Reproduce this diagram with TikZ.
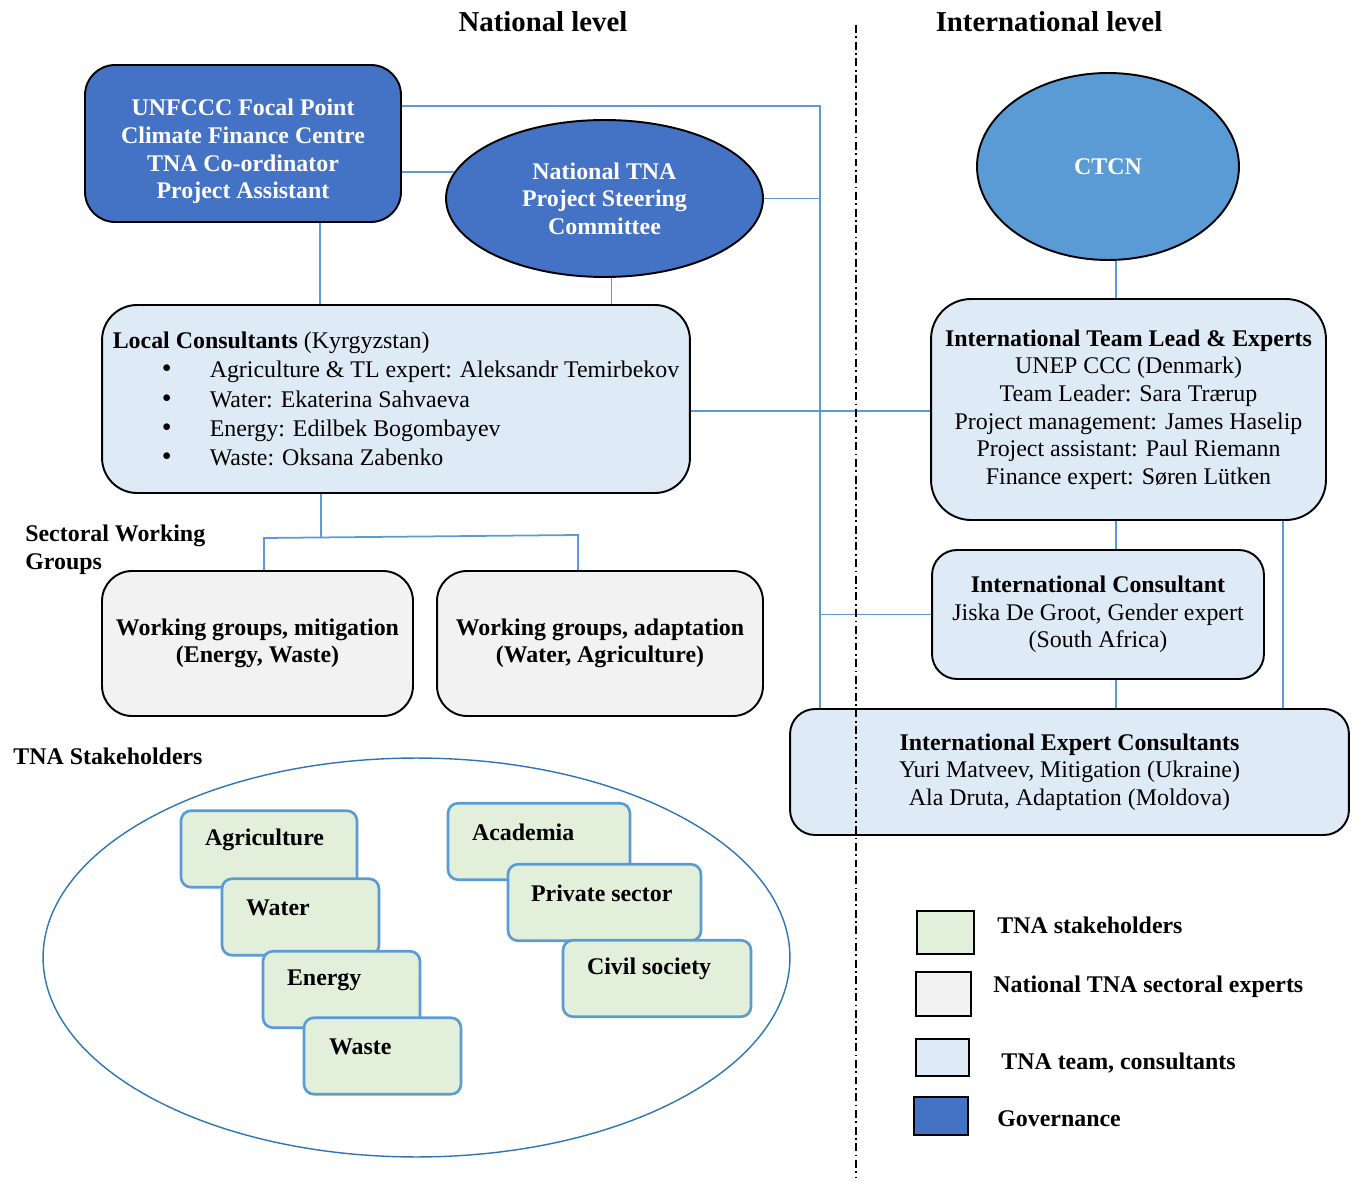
\documentclass[tikz,border=0pt]{standalone}
\usepackage{fontspec}
\usepackage{tikz}
\usetikzlibrary{shapes.geometric}
\setmainfont{Liberation Serif}

\definecolor{govblue}{HTML}{4472C4}
\definecolor{ctcnblue}{HTML}{5B9BD5}
\definecolor{linkblue}{HTML}{5B9BD5}
\definecolor{teamfill}{HTML}{DEEBF7}
\definecolor{expertfill}{HTML}{F2F2F2}
\definecolor{stakefill}{HTML}{E2EFDA}
\definecolor{ringblue}{HTML}{2E75B6}

\newcommand{\lcbullet}{\hspace*{0.98cm}\makebox[0.96cm][l]{\fontsize{16}{0}\selectfont\textbullet}}

\begin{document}
\fontsize{13.6}{15.7}\selectfont
\begin{tikzpicture}[
        x=0.02cm, y=-0.02cm,
        gov/.style={draw=black, line width=1.1pt, fill=govblue, rounded corners=0.6cm, inner sep=0pt},
        govtext/.style={text=white, font=\bfseries, align=center},
        govell/.style={ellipse, draw=black, line width=1.1pt, fill=govblue, text=white, font=\bfseries, align=center, inner sep=0pt},
        team/.style={draw=black, line width=1.1pt, fill=teamfill, align=center, rounded corners=0.6cm, inner sep=0pt},
        expert/.style={draw=black, line width=1.1pt, fill=expertfill, font=\bfseries, align=center, rounded corners=0.6cm, inner sep=0pt},
        stake/.style={draw=linkblue, line width=1.5pt, fill=stakefill, rounded corners=0.2cm, minimum height=1.53cm, inner sep=0pt},
        staketext/.style={font=\bfseries, anchor=west, inner sep=0pt},
        legbox/.style={draw=black, line width=1.1pt, inner sep=0pt},
        legtext/.style={font=\bfseries, anchor=west, inner sep=0pt},
        conn/.style={draw=linkblue, line width=1pt},
        heading/.style={font=\fontsize{16.4}{19}\selectfont\bfseries}
    ]
        \useasboundingbox (0,0) rectangle (1357,1182);

        \node[heading] (natl) at (543,22) {National level};
        \node[heading] (intl) at (1049,22) {International level};

        \node[gov, minimum width=6.32cm, minimum height=3.14cm] (focal) at (243,143.5) {};
        \node[govtext] (focaltext) at ([yshift=-0.16cm]focal.center)
            {UNFCCC Focal Point\\Climate Finance Centre\\TNA Co-ordinator\\Project Assistant};
        \node[govell, minimum width=6.34cm, minimum height=3.14cm] (psc) at (604.5,198.5)
            {National TNA\\Project Steering\\Committee};
        \node[ellipse, draw=black, line width=1.1pt, fill=ctcnblue, text=white, font=\bfseries, minimum width=5.24cm, minimum height=3.74cm] (ctcn) at (1108,166.5) {CTCN};

        \node[team, rounded corners=0.7cm, minimum width=11.76cm, minimum height=3.76cm, align=left, font=\fontsize{13.6}{16.6}\selectfont] (local) at (396,399)
            {\textbf{Local Consultants} (Kyrgyzstan)\\
             \lcbullet Agriculture \& TL expert: Aleksandr Temirbekov\\
             \lcbullet Water: Ekaterina Sahvaeva\\
             \lcbullet Energy: Edilbek Bogombayev\\
             \lcbullet Waste: Oksana Zabenko};
        \node[team, rounded corners=0.8cm, minimum width=7.9cm, minimum height=4.42cm] (lead) at (1128.5,409.5)
            {\textbf{International Team Lead \& Experts}\\UNEP CCC (Denmark)\\Team Leader: Sara Trærup\\Project management: James Haselip\\Project assistant: Paul Riemann\\Finance expert: Søren Lütken};
        \node[team, rounded corners=0.5cm, minimum width=6.64cm, minimum height=2.58cm] (gender) at (1098,614.5)
            {\textbf{International Consultant}\\Jiska De Groot, Gender expert\\(South Africa)};
        \node[team, rounded corners=0.5cm, minimum width=11.18cm, minimum height=2.52cm] (experts) at (1069.5,772)
            {\textbf{International Expert Consultants}\\Yuri Matveev, Mitigation (Ukraine)\\Ala Druta, Adaptation (Moldova)};

        \node[font=\bfseries, align=left, anchor=west, inner sep=0pt] (swg) at (25,550) {Sectoral Working\\Groups};
        \node[expert, minimum width=6.22cm, minimum height=2.9cm] (mitig) at (257.5,643.5)
            {Working groups, mitigation\\(Energy, Waste)};
        \node[expert, minimum width=6.52cm, minimum height=2.9cm] (adapt) at (600,643.5)
            {Working groups, adaptation\\(Water, Agriculture)};

        \node[font=\bfseries, anchor=west, inner sep=0pt] (stk) at (13,756) {TNA Stakeholders};
        \node[ellipse, draw=ringblue, line width=0.8pt, minimum width=14.94cm, minimum height=7.98cm] (ring) at (416.5,957.5) {};

        \node[stake, minimum width=3.52cm] (agri) at (269,849) {};
        \node[staketext] (agritext) at ([shift={(25,30)}]agri.north west) {Agriculture};
        \node[stake, minimum width=3.14cm] (water) at (300.5,917) {};
        \node[staketext] (watertext) at ([shift={(25,30)}]water.north west) {Water};
        \node[stake, minimum width=3.14cm] (energy) at (341.5,989.5) {};
        \node[staketext] (energytext) at ([shift={(25,30)}]energy.north west) {Energy};
        \node[stake, minimum width=3.14cm] (waste) at (382.5,1056) {};
        \node[staketext] (wastetext) at ([shift={(26,30)}]waste.north west) {Waste};
        \node[stake, minimum width=3.64cm] (acad) at (539,841.5) {};
        \node[staketext] (acadtext) at ([shift={(25,30)}]acad.north west) {Academia};
        \node[stake, minimum width=3.86cm] (priv) at (604.5,902.5) {};
        \node[staketext] (privtext) at ([shift={(24,30)}]priv.north west) {Private sector};
        \node[stake, minimum width=3.76cm] (civil) at (657,978.5) {};
        \node[staketext] (civiltext) at ([shift={(25,30)}]civil.north west) {Civil society};

        \node[legbox, fill=stakefill, minimum width=1.14cm, minimum height=0.86cm] (leg1) at (945.5,932.5) {};
        \node[legtext] (leg1text) at (997,925) {TNA stakeholders};
        \node[legbox, fill=expertfill, minimum width=1.1cm, minimum height=0.88cm] (leg2) at (943.5,994) {};
        \node[legtext] (leg2text) at (993,987) {National TNA sectoral experts};
        \node[legbox, fill=teamfill, minimum width=1.06cm, minimum height=0.74cm] (leg3) at (942.5,1057.5) {};
        \node[legtext] (leg3text) at (1001,1063) {TNA team, consultants};
        \node[legbox, fill=govblue, minimum width=1.08cm, minimum height=0.76cm] (leg4) at (941,1116) {};
        \node[legtext] (leg4text) at (997,1119) {Governance};

        \coordinate (jt) at (820,106);
        \coordinate (jc) at (1116,260);
        \coordinate (jr) at (1283,520);
        \coordinate (jw) at (321,537);
        \coordinate (jm) at (264,538);
        \coordinate (ja) at (578,535);

        \draw[conn] (focal.east |- jt) -- (jt) -- (jt |- experts.north);
        \draw[conn] (focal.east |- psc.170) -- (psc.170);
        \draw[conn] (psc.east) -- (psc.east -| jt);
        \draw[conn] ([xshift=1.54cm]focal.south) -- ([xshift=1.54cm]focal.south |- local.north);
        \draw[conn] (psc.-85) -- (psc.-85 |- local.north);
        \draw[conn] (local.east |- 0,411) -- (lead.west |- 0,411);
        \draw[conn] (gender.west -| jt) -- (gender.west);
        \draw[conn] (ctcn.south -| jc) -- (lead.north -| jc);
        \draw[conn] (lead.south -| jc) -- (gender.north -| jc);
        \draw[conn] (gender.south -| jc) -- (experts.north -| jc);
        \draw[conn] (lead.south -| jr) -- (experts.north -| jr);
        \draw[conn] (local.south -| jw) -- (jw);
        \draw[conn] (mitig.north -| jm) -- (jm) -- (ja) -- (adapt.north -| ja);

        \draw[line width=0.8pt, dash pattern=on 4.5pt off 2pt on 1pt off 2pt] (856,25) -- (856,1178);
    \end{tikzpicture}
\end{document}
